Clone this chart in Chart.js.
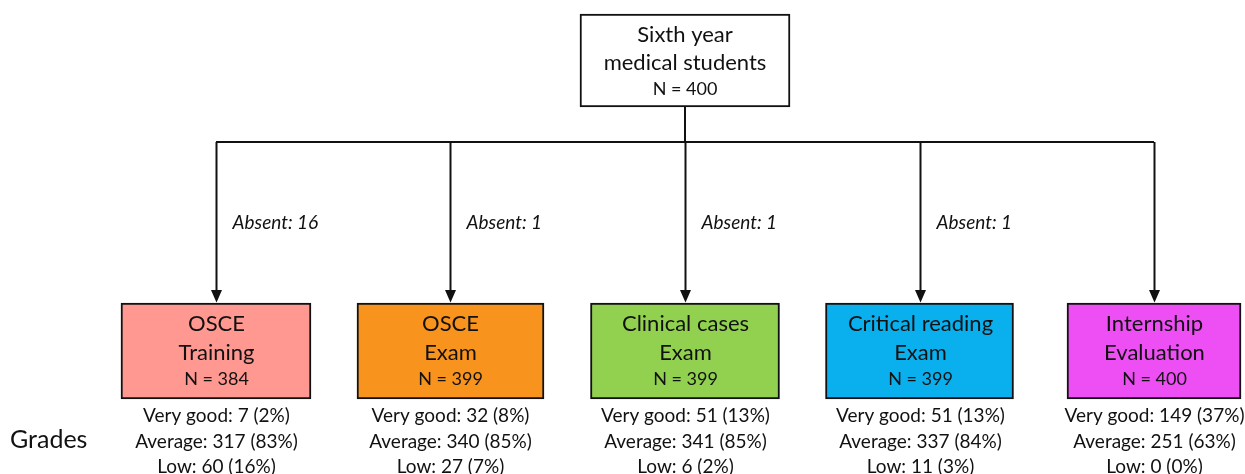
<!DOCTYPE html>
<html>
<head>
<meta charset="utf-8">
<script src="https://cdn.jsdelivr.net/npm/chart.js@4.4.1/dist/chart.umd.min.js"></script>
<style>
    html, body { margin: 0; padding: 0; background: #fff; }
    #wrap { width: 1245px; height: 474px; position: relative; }
</style>
</head>
<body>
<div id="wrap"><canvas id="flowChart"></canvas></div>
<script>
// flow data
const rootLabel = ['Sixth year', 'medical students'];
const rootN = 400;
const categories = [
    ['OSCE', 'Training'],
    ['OSCE', 'Exam'],
    ['Clinical cases', 'Exam'],
    ['Critical reading', 'Exam'],
    ['Internship', 'Evaluation']
];
const participants = [384, 399, 399, 399, 400];
const absent = [16, 1, 1, 1, 0];
const veryGood = [7, 32, 51, 51, 149];
const veryGoodPct = [2, 8, 13, 13, 37];
const average = [317, 340, 341, 337, 251];
const averagePct = [83, 85, 85, 84, 63];
const low = [60, 27, 6, 11, 0];
const lowPct = [16, 7, 2, 3, 0];

// layout (y units match the page height, axis reversed)
const layout = {
    rootBox: [14, 107],
    branchY: 142,
    box: [303, 399],
    gradeY: [416, 442, 467],
    rootWidth: 210,
    boxWidths: [190, 187, 189, 188, 174]
};
const boxColors = ['#ff9890', '#f8931d', '#92d050', '#0ab0ee', '#ee4ff5'];
const FONT = 'Lato, "Open Sans", sans-serif';
const INK = '#111';

const rootIndex = (categories.length - 1) / 2;

const datasets = [{
    label: 'root',
    data: [{ x: rootIndex, y: layout.rootBox }],
    backgroundColor: '#ffffff',
    barThickness: layout.rootWidth
}].concat(categories.map((c, i) => ({
    label: c.join(' '),
    data: [{ x: i, y: layout.box }],
    backgroundColor: boxColors[i],
    barThickness: layout.boxWidths[i]
})));

const flowPlugin = {
    id: 'flow',
    afterDatasetsDraw(chart) {
        const { ctx, scales: { x, y } } = chart;
        ctx.save();
        ctx.strokeStyle = INK;
        ctx.fillStyle = INK;
        ctx.lineWidth = 2;

        // trunk + branch
        const xr = x.getPixelForValue(rootIndex);
        const yb = y.getPixelForValue(layout.branchY);
        ctx.beginPath();
        ctx.moveTo(xr, y.getPixelForValue(layout.rootBox[1]));
        ctx.lineTo(xr, yb);
        ctx.moveTo(x.getPixelForValue(0), yb);
        ctx.lineTo(x.getPixelForValue(categories.length - 1), yb);
        ctx.stroke();

        const yTop = y.getPixelForValue(layout.box[0]);
        categories.forEach((c, i) => {
            const xp = Math.round(x.getPixelForValue(i)) + 0.5;
            ctx.beginPath();
            ctx.moveTo(xp, yb);
            ctx.lineTo(xp, yTop - 10);
            ctx.stroke();
            ctx.beginPath();
            ctx.moveTo(xp - 5.5, yTop - 13);
            ctx.lineTo(xp + 5.5, yTop - 13);
            ctx.lineTo(xp, yTop - 0.5);
            ctx.closePath();
            ctx.fill();

            if (absent[i] > 0) {
                ctx.font = 'italic 19px ' + FONT;
                ctx.textAlign = 'left';
                ctx.textBaseline = 'middle';
                ctx.fillText('Absent: ' + absent[i], xp + 16, y.getPixelForValue(223));
            }

            // box text
            const boxTop = y.getPixelForValue(layout.box[0]);
            ctx.textAlign = 'center';
            ctx.textBaseline = 'middle';
            ctx.font = '22px ' + FONT;
            ctx.fillText(c[0], xp, boxTop + 21);
            ctx.fillText(c[1], xp, boxTop + 50);
            ctx.font = '18px ' + FONT;
            ctx.fillText('N = ' + participants[i], xp, boxTop + 76);

            // grades
            ctx.font = '19px ' + FONT;
            const lines = [
                'Very good: ' + veryGood[i] + ' (' + veryGoodPct[i] + '%)',
                'Average: ' + average[i] + ' (' + averagePct[i] + '%)',
                'Low: ' + low[i] + ' (' + lowPct[i] + '%)'
            ];
            lines.forEach((t, k) => ctx.fillText(t, xp, y.getPixelForValue(layout.gradeY[k])));
        });

        // root box text
        const rt = y.getPixelForValue(layout.rootBox[0]);
        ctx.textAlign = 'center';
        ctx.textBaseline = 'middle';
        ctx.font = '22px ' + FONT;
        ctx.fillText(rootLabel[0], xr, rt + 21);
        ctx.fillText(rootLabel[1], xr, rt + 49);
        ctx.font = '18px ' + FONT;
        ctx.fillText('N = ' + rootN, xr, rt + 75);

        // row label
        ctx.textAlign = 'left';
        ctx.font = '25px ' + FONT;
        ctx.fillText('Grades', 10, y.getPixelForValue(layout.gradeY[1]) - 2);

        ctx.restore();
    }
};

new Chart(document.getElementById('flowChart').getContext('2d'), {
    type: 'bar',
    data: { datasets },
    options: {
        responsive: true,
        maintainAspectRatio: false,
        animation: false,
        layout: { padding: 0 },
        datasets: {
            bar: {
                grouped: false,
                borderColor: INK,
                borderWidth: 2,
                borderSkipped: false
            }
        },
        plugins: { legend: { display: false }, tooltip: { enabled: false } },
        scales: {
            x: { type: 'linear', display: false, offset: false, min: -0.921, max: 4.388 },
            y: { type: 'linear', display: false, reverse: true, min: 0, max: 474 }
        }
    },
    plugins: [flowPlugin]
});
</script>
</body>
</html>
